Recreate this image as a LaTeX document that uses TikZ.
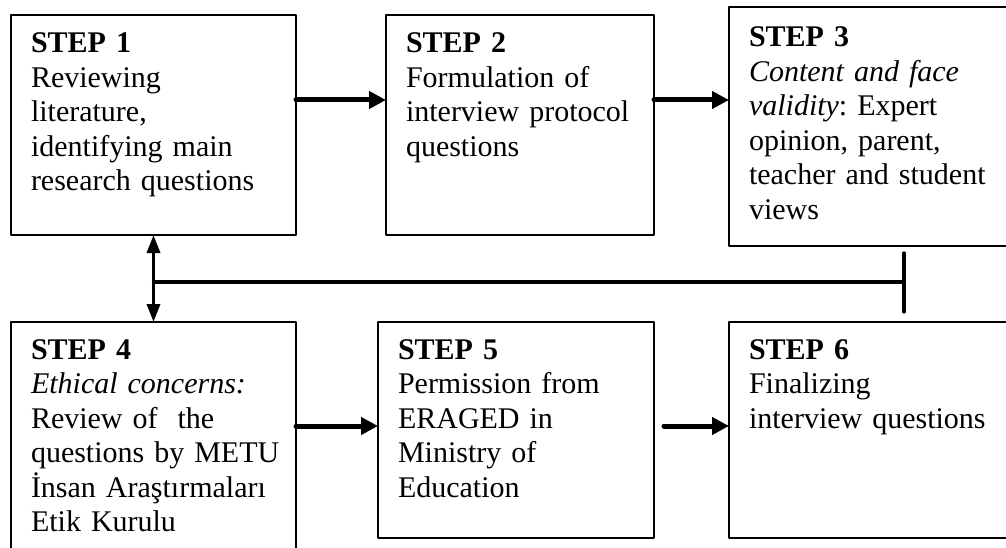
\documentclass[tikz,border=0pt]{standalone}
\usepackage{fontspec}
\setmainfont{Liberation Serif}
\usepackage{tikz}
\usetikzlibrary{arrows.meta}

\begin{document}
\begin{tikzpicture}[line cap=round,line join=round,x=1pt,y=-1pt,
  stepbox/.style={draw,line width=1.3pt,anchor=north west,outer sep=0pt,inner xsep=20pt,inner ysep=17pt,align=left,text height=20pt,font=\fontsize{30pt}{34.5pt}\selectfont},
  flow/.style={line width=5pt,-{Triangle[length=17pt,width=17pt]}},
  link/.style={line width=3.3pt}]
\useasboundingbox (0,0) rectangle (1006,548);
\clip (0,0) rectangle (1006,548);
\node[stepbox,inner ysep=18pt,text width=245pt,text depth=164pt] (s1) at (11,15) {\textbf{STEP 1}\\ Reviewing\\ literature,\\ identifying~main\\ research~questions};
\node[stepbox,inner ysep=18pt,text width=228pt,text depth=164pt] (s2) at (386,15) {\textbf{STEP 2}\\ Formulation~of\\ interview~protocol\\ questions};
\node[stepbox,inner ysep=20pt,text width=243pt,text depth=179pt] (s3) at (729,7) {\textbf{STEP 3}\\ \textit{Content~and~face}\\ \textit{validity}:~Expert\\ opinion,~parent,\\ teacher~and~student\\ views};
\node[stepbox,text width=245pt,text depth=186pt] (s4) at (11,322) {\textbf{STEP 4}\\ \textit{Ethical~concerns:}\\ Review~of~~the\\ questions~by~METU\\ İnsan~Araştırmaları\\ Etik~Kurulu};
\node[stepbox,text width=236pt,text depth=162pt] (s5) at (378,322) {\textbf{STEP 5}\\ Permission~from\\ ERAGED~in\\ Ministry~of\\ Education};
\node[stepbox,text width=243pt,text depth=162pt] (s6) at (729,322) {\textbf{STEP 6}\\ Finalizing\\ interview~questions};
\coordinate (bar) at (904,282);
% arrows between the steps
\draw[flow] ([yshift=25pt]s1.east) -- ([yshift=25pt]s2.west);
\draw[flow] ([yshift=25pt]s2.east) -- ([yshift=26.5pt]s3.west);
\draw[flow] ([yshift=16pt]s4.east) -- ([yshift=4pt]s5.west);
\draw[flow] ([xshift=10pt,yshift=4pt]s5.east) -- ([yshift=4pt]s6.west);
% link back to step 1 and step 4
\draw[link,{Triangle[length=18pt,width=13pt]}-{Triangle[length=18pt,width=13pt]}] (s1.south) -- (s4.north);
\draw[link] (bar -| s1.south) -- (bar);
\draw[link] ([yshift=29pt]bar) -- ([yshift=-30pt]bar);
\end{tikzpicture}
\end{document}
